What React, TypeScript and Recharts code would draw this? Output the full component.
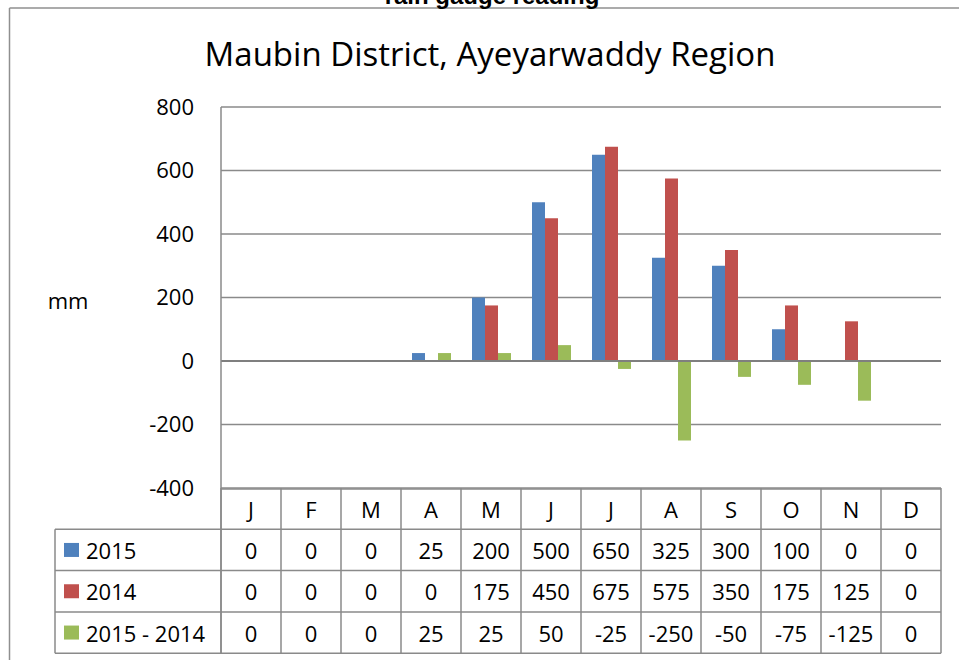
import React from 'react';
import { BarChart, Bar, XAxis, YAxis, CartesianGrid, ReferenceLine, Customized } from 'recharts';

const months = ['J', 'F', 'M', 'A', 'M', 'J', 'J', 'A', 'S', 'O', 'N', 'D'];
const rain2015 = [0, 0, 0, 25, 200, 500, 650, 325, 300, 100, 0, 0];
const rain2014 = [0, 0, 0, 0, 175, 450, 675, 575, 350, 175, 125, 0];
const rainDiff = [0, 0, 0, 25, 25, 50, -25, -250, -50, -75, -125, 0];
const yTicks = [-400, -200, 0, 200, 400, 600, 800];

const series = [
  { key: 's2015', name: '2015', color: '#4F81BD', values: rain2015 },
  { key: 's2014', name: '2014', color: '#C0504D', values: rain2014 },
  { key: 'diff', name: '2015 - 2014', color: '#9BBB59', values: rainDiff },
];

const data = months.map((m, i) => ({
  month: m,
  s2015: rain2015[i],
  s2014: rain2014[i],
  diff: rainDiff[i],
}));

const W = 959;
const H = 660;
const FONT = '"Open Sans", sans-serif';
const FS = 22;
const LINE = '#8a8a8a';
const margin = { top: 107, right: 18, left: 171, bottom: 7 };
const yAxisW = 50;
const xAxisH = 165;
const plotLeft = margin.left + yAxisW;
const plotRight = W - margin.right;
const plotBottom = H - margin.bottom - xAxisH;
const colW = (plotRight - plotLeft) / months.length;
const rowH = 41.3;
const legendLeft = 55;

const TableColumn = (props: any) => {
  const { x, y, payload } = props;
  const i = payload.index;
  const left = x - colW / 2;
  const right = x + colW / 2;
  const bottom = y + rowH * 4;
  return (
    <g>
      <line x1={right} y1={y} x2={right} y2={bottom} stroke={LINE} strokeWidth={1.5} />
      <text x={x} y={y + rowH / 2} textAnchor="middle" dominantBaseline="central" fontSize={FS} fontFamily={FONT} fill="#000">
        {payload.value}
      </text>
      {series.map((s, r) => (
        <text key={s.key} x={x} y={y + rowH * (r + 1.5)} textAnchor="middle" dominantBaseline="central" fontSize={FS} fontFamily={FONT} fill="#000">
          {s.values[i]}
        </text>
      ))}
      {i === 0 && <line x1={left} y1={y} x2={left} y2={bottom} stroke={LINE} strokeWidth={1.5} />}
    </g>
  );
};

const Decorations = () => {
  const top = plotBottom;
  return (
    <g>
      {/* outer frame */}
      <line x1={9.5} y1={8} x2={W} y2={8} stroke="#8f8f8f" strokeWidth={1.5} />
      <line x1={9.5} y1={8} x2={9.5} y2={H} stroke="#8f8f8f" strokeWidth={1.5} />
      <text x={492} y={4} textAnchor="middle" fontSize={24} fontWeight="bold" fontFamily='"Liberation Sans", Arial, sans-serif' fill="#000">
        rain gauge reading
      </text>
      <text x={490} y={53} textAnchor="middle" dominantBaseline="central" fontSize={33} fontFamily={FONT} fill="#000">
        Maubin District, Ayeyarwaddy Region
      </text>
      <text x={68} y={300} textAnchor="middle" dominantBaseline="central" fontSize={FS} fontFamily={FONT} fill="#000">
        mm
      </text>
      {/* table grid */}
      <line x1={plotLeft} y1={top + 1} x2={plotRight} y2={top + 1} stroke={LINE} strokeWidth={1.5} />
      {[1, 2, 3, 4].map((r) => (
        <line key={r} x1={legendLeft} y1={top + rowH * r} x2={plotRight} y2={top + rowH * r} stroke={LINE} strokeWidth={1.5} />
      ))}
      <line x1={legendLeft} y1={top + rowH} x2={legendLeft} y2={top + rowH * 4} stroke={LINE} strokeWidth={1.5} />
      {series.map((s, r) => (
        <g key={s.key}>
          <rect x={64} y={top + rowH * (r + 1.5) - 7} width={15} height={14} fill={s.color} />
          <text x={86} y={top + rowH * (r + 1.5)} dominantBaseline="central" fontSize={FS} fontFamily={FONT} fill="#000">
            {s.name}
          </text>
        </g>
      ))}
    </g>
  );
};

export default function App() {
  return (
    <div style={{ width: W, height: H, position: 'absolute', left: 0, top: 0, background: '#fff' }}>
      <BarChart width={W} height={H} data={data} margin={margin} barGap={0} barSize={13}>
        <CartesianGrid horizontal vertical={false} stroke={LINE} strokeWidth={1.5} />
        <YAxis
          width={yAxisW}
          domain={[-400, 800]}
          ticks={yTicks}
          interval={0}
          axisLine={{ stroke: LINE, strokeWidth: 1.5 }}
          tickLine={false}
          tickSize={0}
          tickMargin={27}
          tick={{ fontSize: FS, fontFamily: FONT, fill: '#000' }}
        />
        <XAxis
          dataKey="month"
          height={xAxisH}
          axisLine={false}
          tickLine={false}
          tickSize={0}
          tickMargin={0}
          interval={0}
          tick={<TableColumn />}
        />
        <ReferenceLine y={0} stroke="#7f7f7f" strokeWidth={1.8} />
        {series.map((s) => (
          <Bar key={s.key} dataKey={s.key} name={s.name} fill={s.color} isAnimationActive={false} />
        ))}
        <Customized component={<Decorations />} />
        <line x1={plotLeft} y1={plotBottom} x2={plotLeft} y2={plotBottom + rowH * 4} stroke={LINE} strokeWidth={1.5} />
      </BarChart>
    </div>
  );
}
